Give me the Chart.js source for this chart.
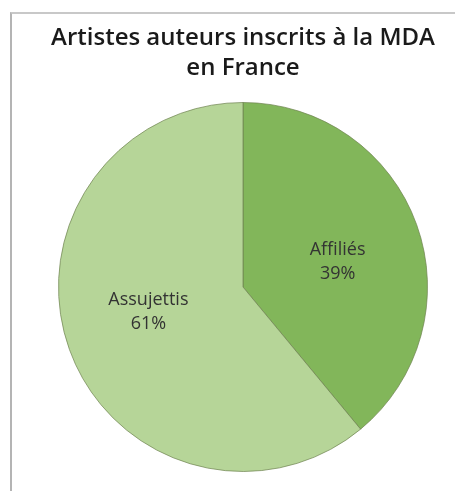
<!DOCTYPE html>
<html>
<head>
<meta charset="utf-8">
<script src="https://cdn.jsdelivr.net/npm/chart.js@4/dist/chart.umd.min.js"></script>
<style>
    html, body { margin: 0; padding: 0; background: #fff; }
    #wrap { position: relative; width: 455px; height: 491px; }
    #frame {
        position: absolute; left: 10px; top: 12px; right: 0; bottom: 0;
        border-left: 2px solid #b4b4b4; border-top: 2px solid #c8c8c8;
    }
    canvas { position: absolute; left: 0; top: 0; }
</style>
</head>
<body>
<div id="wrap">
    <div id="frame"></div>
    <canvas id="pieChart" width="455" height="491"></canvas>
</div>
<script>
// données du graphique
const categories = ['Affiliés', 'Assujettis'];
const values = [39, 61];
const colors = ['#82b65a', '#b6d598'];
const titleLines = ['Artistes auteurs inscrits à la MDA', 'en France'];

// étiquettes à l'intérieur des parts
const sliceLabels = {
    id: 'sliceLabels',
    afterDatasetsDraw(chart) {
        const ctx = chart.ctx;
        const meta = chart.getDatasetMeta(0);
        const total = values.reduce((a, b) => a + b, 0);
        ctx.save();
        ctx.font = '18px "Open Sans"';
        ctx.fillStyle = '#333';
        ctx.textAlign = 'center';
        ctx.textBaseline = 'middle';
        meta.data.forEach((arc, i) => {
            const p = arc.getProps(['x', 'y', 'startAngle', 'endAngle', 'outerRadius'], true);
            // léger décalage horaire comme dans l'original
            const mid = (p.startAngle + p.endAngle) / 2 + 0.09;
            const r = p.outerRadius * 0.53;
            const x = p.x + Math.cos(mid) * r;
            const y = p.y + Math.sin(mid) * r;
            const pct = Math.round(values[i] / total * 100) + '%';
            ctx.fillText(categories[i], x, y - 12);
            ctx.fillText(pct, x, y + 12);
        });
        ctx.restore();
    }
};

const ctx = document.getElementById('pieChart').getContext('2d');
new Chart(ctx, {
    type: 'pie',
    data: {
        labels: categories,
        datasets: [{
            data: values,
            backgroundColor: colors,
            borderColor: 'rgba(110, 130, 80, 0.7)',
            borderWidth: 1
        }]
    },
    options: {
        responsive: false,
        animation: false,
        layout: {
            padding: { left: 31, right: 0, top: 0, bottom: 19 }
        },
        plugins: {
            legend: { display: false },
            tooltip: { enabled: false },
            title: {
                display: true,
                text: titleLines,
                color: '#1a1a1a',
                font: { family: '"Open Sans"', size: 24, weight: '600', lineHeight: 1.25 },
                padding: { top: 23, bottom: 19 }
            }
        }
    },
    plugins: [sliceLabels]
});
</script>
</body>
</html>
